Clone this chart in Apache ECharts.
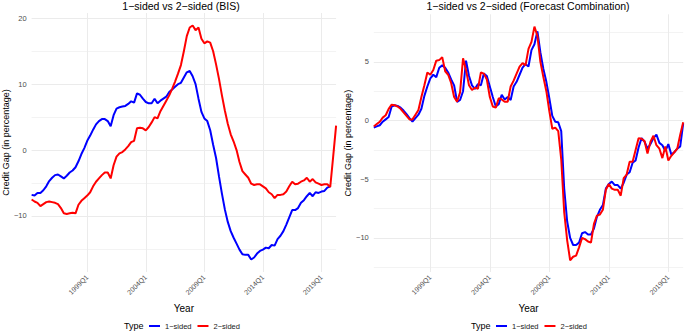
<!DOCTYPE html>
<html>
<head>
<meta charset="utf-8">
<script src="https://cdn.jsdelivr.net/npm/echarts@6/dist/echarts.min.js"></script>
<style>
  html, body { margin: 0; padding: 0; background: #fff; }
  #chart-container { width: 685px; height: 332px; }
</style>
</head>
<body>
<div id="chart-container"></div>
<script>
  "use strict";

  // quarters 1994Q2 .. 2020Q2
  var quarters = [];
  for (var yr = 1994; yr <= 2020; yr++) {
    for (var q = 1; q <= 4; q++) {
      if ((yr === 1994 && q < 2) || (yr === 2020 && q > 2)) continue;
      quarters.push(yr + 'Q' + q);
    }
  }

  // labels shown on the x axis
  var tickLabels = ['1999Q1', '2004Q1', '2009Q1', '2014Q1', '2019Q1'];

  // BIS panel
  var bisOneSided = [
    -6.8, -6.9, -6.5, -6.5, -6.1, -5.5, -4.7, -4.2, -3.8, -3.7,
    -4.0, -4.3, -3.9, -3.4, -3.1, -2.6, -1.7, -0.6, 0.3, 1.4,
    2.2, 3.1, 3.9, 4.4, 4.7, 4.7, 4.4, 3.6, 5.3, 6.3,
    6.5, 6.6, 6.7, 7.0, 7.4, 7.2, 8.6, 8.4, 7.8, 7.3,
    7.1, 7.1, 7.8, 7.1, 7.5, 7.8, 8.1, 8.8, 9.2, 9.6,
    10.0, 10.2, 11.0, 11.8, 12.0, 11.2, 10.0, 7.8, 5.8, 4.8,
    4.4, 3.0, 0.8, -1.2, -4.0, -6.6, -9.0, -10.9, -12.3, -13.3,
    -14.2, -15.1, -15.8, -15.9, -15.9, -16.6, -16.3, -15.7, -15.3, -15.1,
    -14.8, -14.9, -14.4, -14.5, -13.5, -13.0, -12.3, -11.3, -10.2, -9.1,
    -9.1, -8.8, -8.0, -7.6, -7.0, -6.5, -7.0, -6.4, -6.5, -6.3,
    -6.2, -5.7, -5.5, null, null
  ];
  var bisTwoSided = [
    -7.5, -7.8, -8.0, -8.5, -8.2, -7.9, -7.8, -7.9, -8.0, -8.2,
    -8.8, -9.6, -9.7, -9.6, -9.5, -9.6, -8.3, -7.7, -7.3, -6.9,
    -6.4, -5.5, -4.8, -4.3, -3.8, -3.4, -3.4, -4.3, -2.3, -1.0,
    -0.5, -0.3, 0.1, 0.6, 1.2, 1.4, 3.3, 3.4, 3.3, 3.0,
    3.5, 4.2, 5.0, 4.8, 5.9, 6.7, 7.5, 8.3, 9.3, 10.4,
    11.6, 12.9, 15.0, 17.3, 18.6, 18.9, 18.2, 18.6, 16.9, 16.2,
    16.5, 16.3, 15.0, 13.0, 10.8, 8.3, 6.0, 4.0, 2.4, 1.3,
    0.0, -1.8, -3.2, -3.7, -4.2, -5.1, -5.3, -5.2, -5.2, -5.5,
    -5.8, -6.4, -6.7, -7.3, -6.8, -6.8, -6.7, -6.3, -5.5, -4.8,
    -5.2, -5.1, -4.8, -4.6, -4.2, -4.8, -4.4, -4.9, -5.1, -5.3,
    -5.2, -5.2, -5.6, -1.0, 3.7
  ];

  // Forecast combination panel
  var fcOneSided = [
    -0.6, -0.5, -0.4, -0.1, 0.1, 0.3, 1.2, 1.3, 1.25, 1.1,
    0.85, 0.55, 0.2, -0.1, 0.2, 0.5, 1.0, 2.1, 2.9, 3.6,
    3.9, 3.7, 4.5, 4.7, 4.5, 4.1, 3.5, 3.0, 1.6, 1.75,
    2.5, 5.1, 3.8, 3.0, 2.7, 3.1, 3.0, 4.0, 3.8, 2.9,
    2.0, 1.2, 1.4, 2.2, 1.8, 2.0, 1.75, 2.9, 3.3, 3.9,
    4.5, 4.8, 4.6, 6.0, 6.5, 7.6, 5.8, 4.4, 3.3, 1.9,
    0.4, -0.1, -0.15, -0.9, -5.8, -8.6, -10.0, -10.6, -10.6, -10.4,
    -9.6, -9.5, -9.7, -9.7, -9.2, -8.2, -7.6, -7.2, -5.8, -5.4,
    -5.2, -5.5, -5.5, -5.8, -5.3, -4.6, -4.4, -3.6, -3.4, -2.3,
    -1.5, -1.8, -2.4, -2.0, -1.5, -1.2, -1.9, -2.1, -2.6, -2.0,
    -2.9, -2.7, -2.4, -2.2, -0.25
  ];
  var fcTwoSided = [
    -0.5, -0.3, -0.1, 0.25, 0.45, 1.0, 1.35, 1.3, 1.2, 1.0,
    0.7, 0.4, 0.1, 0.1, 0.5, 0.9, 2.0, 3.0, 4.1, 3.9,
    4.3, 5.1, 5.15, 5.4, 4.2, 3.9, 3.2, 2.0, 1.6, 2.4,
    5.3, 4.3, 3.0, 2.6, 2.8, 2.7, 4.1, 4.0, 3.5, 2.0,
    1.2, 1.1, 1.9, 1.8, 1.6, 1.6, 2.9, 3.4, 4.0, 4.6,
    4.9, 4.7, 6.1, 6.7, 8.0, 7.2, 5.0, 3.7, 2.5, 0.8,
    -0.7, -0.6, -0.9, -3.3, -7.8, -10.2, -11.9, -11.6, -11.5, -10.8,
    -10.0, -10.1, -10.3, -10.4, -8.8, -8.1, -8.0, -7.6, -5.9, -5.4,
    -5.8, -5.9, -5.9, -6.4, -4.9, -4.6, -3.5, -3.5, -2.5, -1.5,
    -1.55, -1.75, -2.8, -1.8, -1.3, -2.1, -2.4, -3.2, -2.2, -3.4,
    -3.0, -2.7, -2.4, -1.2, -0.15
  ];

  // y gridlines (major with labels, minor without)
  var bisMajor = [-10, 0, 10, 20];
  var bisMinor = [-15, -5, 5, 15];
  var fcMajor = [-10, -5, 0, 5];
  var fcMinor = [-12.5, -7.5, -2.5, 2.5, 7.5];

  var FONT = 'Liberation Sans, Arial, Helvetica, sans-serif';
  var GRID_COLOR = '#ebebeb';
  var seriesNames = ['1\u2212sided', '2\u2212sided'];

  var chart = echarts.init(document.getElementById('chart-container'), null, { renderer: 'svg' });

  function xAxisFor(gridIndex) {
    var isTick = function (idx, val) { return tickLabels.indexOf(quarters[idx]) >= 0; };
    return {
      type: 'category',
      gridIndex: gridIndex,
      data: quarters,
      boundaryGap: false,
      name: 'Year',
      nameLocation: 'middle',
      nameGap: 21,
      nameTextStyle: { fontSize: 10, color: '#000', fontFamily: FONT },
      axisLine: { show: false },
      axisTick: { show: false },
      axisLabel: {
        interval: isTick, rotate: 45, margin: 4,
        fontSize: 7, color: '#4d4d4d', fontFamily: FONT
      },
      splitLine: { show: true, interval: isTick, lineStyle: { color: GRID_COLOR, width: 1 } }
    };
  }

  function yAxesFor(gridIndex, min, max, major, minor, gap) {
    return [{
      type: 'value',
      gridIndex: gridIndex,
      min: min, max: max,
      name: 'Credit Gap (in percentage)',
      nameLocation: 'middle',
      nameGap: gap,
      nameTextStyle: { fontSize: 9, color: '#000', fontFamily: FONT },
      axisLine: { show: false },
      axisTick: { show: false, customValues: major },
      axisLabel: {
        customValues: major, margin: 5, fontSize: 7.5, color: '#4d4d4d', fontFamily: FONT,
        formatter: function (v) { return String(v).replace('-', '\u2212'); }
      },
      splitLine: { show: true, lineStyle: { color: GRID_COLOR, width: 1 } }
    }, {
      type: 'value',
      gridIndex: gridIndex,
      min: min, max: max,
      axisLine: { show: false },
      axisTick: { show: false, customValues: minor },
      axisLabel: { show: false },
      splitLine: { show: true, lineStyle: { color: GRID_COLOR, width: 0.6 } }
    }];
  }

  function lineSeries(name, color, xi, yi, data) {
    return {
      name: name, type: 'line', xAxisIndex: xi, yAxisIndex: yi,
      data: data, showSymbol: false, symbol: 'none', connectNulls: false,
      lineStyle: { color: color, width: 2 }, itemStyle: { color: color },
      z: name === seriesNames[1] ? 3 : 2
    };
  }

  var titleStyle = { fontSize: 10.5, fontWeight: 'normal', color: '#000', fontFamily: FONT };
  var legendText = { fontSize: 7.5, color: '#1a1a1a', fontFamily: FONT };

  var options = {
    animation: false,
    backgroundColor: '#fff',
    title: [
      { text: '1\u2212sided vs 2\u2212sided (BIS)', left: 181, top: 0, padding: 0, textAlign: 'center', textStyle: titleStyle },
      { text: '1\u2212sided vs 2\u2212sided (Forecast Combination)', left: 528, top: 0, padding: 0, textAlign: 'center', textStyle: titleStyle },
      { text: 'Type', left: 124, top: 321, padding: 0, textStyle: { fontSize: 9, fontWeight: 'normal', color: '#000', fontFamily: FONT } },
      { text: 'Type', left: 471, top: 321, padding: 0, textStyle: { fontSize: 9, fontWeight: 'normal', color: '#000', fontFamily: FONT } }
    ],
    legend: [
      { data: seriesNames, left: 149, top: 322, padding: 0, icon: 'rect', itemWidth: 11, itemHeight: 2, itemGap: 6, textStyle: legendText },
      { data: seriesNames, left: 496, top: 322, padding: 0, icon: 'rect', itemWidth: 11, itemHeight: 2, itemGap: 6, textStyle: legendText }
    ],
    grid: [
      { left: 26.7, top: 13, width: 309.4, height: 259 },
      { left: 373.8, top: 14.3, width: 309.4, height: 257.7 }
    ],
    xAxis: [xAxisFor(0), xAxisFor(1)],
    yAxis: yAxesFor(0, -18.5, 20.8, bisMajor, bisMinor, 17)
      .concat(yAxesFor(1, -12.9, 9.05, fcMajor, fcMinor, 18)),
    series: [
      lineSeries(seriesNames[0], '#0000ff', 0, 0, bisOneSided),
      lineSeries(seriesNames[1], '#ff0000', 0, 0, bisTwoSided),
      lineSeries(seriesNames[0], '#0000ff', 1, 2, fcOneSided),
      lineSeries(seriesNames[1], '#ff0000', 1, 2, fcTwoSided)
    ]
  };

  chart.setOption(options);
</script>
</body>
</html>
